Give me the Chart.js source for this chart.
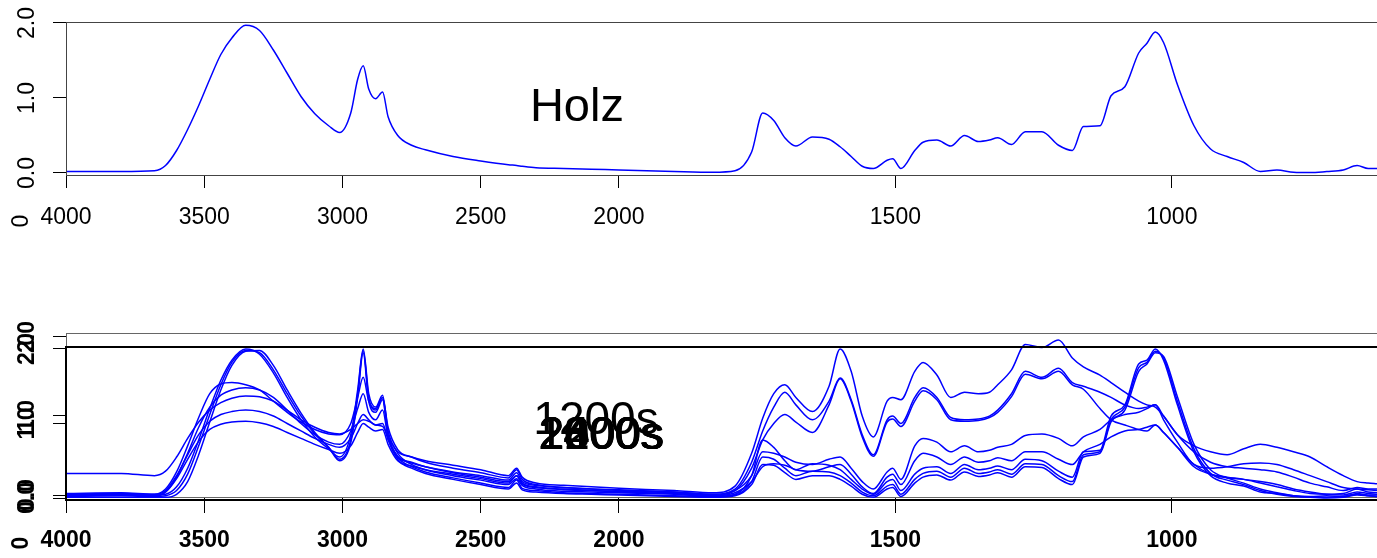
<!DOCTYPE html>
<html>
<head>
<meta charset="utf-8">
<script src="https://cdn.jsdelivr.net/npm/chart.js@4.4.1/dist/chart.umd.min.js"></script>
<style>
    html, body { margin: 0; padding: 0; background: #fff; }
    #wrap { position: relative; width: 1377px; height: 558px; overflow: hidden; }
    canvas { position: absolute; left: 0; top: 0; }
</style>
</head>
<body>
<div id="wrap">
    <canvas id="topChart" width="1377" height="558"></canvas>
    <canvas id="frameChart" width="1377" height="558"></canvas>
    <canvas id="bottomChart" width="1377" height="558"></canvas>
</div>
<script>
// FTIR spectra, wavenumber axis is stretched x2 below 2000 cm-1
const wavenumbers = [
    4000, 3800, 3680, 3640, 3600, 3560, 3520, 3480, 3440, 3400,
    3350, 3300, 3250, 3200, 3150, 3100, 3050, 3010, 2970, 2945,
    2925, 2905, 2880, 2855, 2835, 2800, 2750, 2700, 2600, 2500,
    2400, 2370, 2350, 2300, 2200, 2100, 2000, 1900, 1830, 1790,
    1760, 1740, 1720, 1700, 1680, 1650, 1620, 1600, 1580, 1560,
    1540, 1515, 1505, 1490, 1465, 1450, 1425, 1400, 1375, 1350,
    1330, 1315, 1290, 1265, 1235, 1205, 1180, 1160, 1130, 1110,
    1085, 1060, 1045, 1030, 1015, 990, 960, 930, 900, 870,
    840, 810, 780, 750, 720, 690, 665, 645, 629
];

const xTickLabels = [4000, 3500, 3000, 2500, 2000, 1500, 1000];
const yTickValues = [0, 1, 2];

const holz = [
    0.02, 0.02, 0.03, 0.10, 0.30, 0.58, 0.90, 1.25, 1.58, 1.80,
    1.97, 1.90, 1.64, 1.33, 1.02, 0.79, 0.63, 0.54, 0.80, 1.25,
    1.43, 1.12, 0.99, 1.08, 0.75, 0.50, 0.37, 0.31, 0.22, 0.16,
    0.11, 0.10, 0.09, 0.07, 0.06, 0.05, 0.04, 0.02, 0.01, 0.03,
    0.28, 0.80, 0.70, 0.47, 0.36, 0.48, 0.45, 0.35, 0.22, 0.09,
    0.06, 0.17, 0.19, 0.06, 0.30, 0.41, 0.44, 0.36, 0.50, 0.42,
    0.44, 0.47, 0.38, 0.55, 0.55, 0.37, 0.30, 0.62, 0.63, 1.03,
    1.15, 1.60, 1.73, 1.88, 1.74, 1.18, 0.63, 0.32, 0.22, 0.14,
    0.02, 0.04, 0.01, 0.005, 0.02, 0.04, 0.10, 0.06, 0.06
];

const sampleNames = ['1200s', '1400s', '1600s', '1800s', '2000s', '2200s', '2400s', '2600s'];

const s1200 = [
    0.04, 0.05, 0.04, 0.05, 0.15, 0.40, 0.78, 1.20, 1.58, 1.85,
    2.00, 1.93, 1.68, 1.35, 1.05, 0.82, 0.66, 0.55, 0.85, 1.45,
    2.00, 1.40, 1.22, 1.38, 0.90, 0.60, 0.45, 0.38, 0.30, 0.24,
    0.18, 0.26, 0.17, 0.12, 0.09, 0.08, 0.07, 0.05, 0.02, 0.05,
    0.30, 0.78, 0.68, 0.50, 0.38, 0.46, 0.44, 0.38, 0.25, 0.12,
    0.05, 0.22, 0.25, 0.10, 0.32, 0.40, 0.42, 0.33, 0.45, 0.38,
    0.40, 0.43, 0.38, 0.52, 0.50, 0.36, 0.28, 0.62, 0.64, 1.10,
    1.25, 1.80, 1.85, 2.00, 1.85, 1.25, 0.62, 0.30, 0.20, 0.16,
    0.08, 0.06, 0.03, 0.02, 0.03, 0.02, 0.06, 0.04, 0.04
];
const s1400 = [
    0.02, 0.03, 0.02, 0.03, 0.10, 0.32, 0.70, 1.12, 1.52, 1.82,
    1.98, 1.95, 1.72, 1.40, 1.10, 0.86, 0.68, 0.52, 0.78, 1.40,
    1.98, 1.35, 1.18, 1.35, 0.85, 0.55, 0.42, 0.35, 0.27, 0.20,
    0.14, 0.24, 0.13, 0.10, 0.07, 0.06, 0.05, 0.03, 0.02, 0.04,
    0.22, 0.55, 0.52, 0.40, 0.30, 0.36, 0.35, 0.30, 0.20, 0.08,
    0.03, 0.16, 0.18, 0.05, 0.25, 0.33, 0.36, 0.28, 0.40, 0.33,
    0.35, 0.38, 0.32, 0.46, 0.45, 0.30, 0.22, 0.58, 0.62, 1.05,
    1.22, 1.75, 1.82, 1.97, 1.88, 1.30, 0.66, 0.33, 0.24, 0.18,
    0.10, 0.05, 0.02, 0.01, 0.01, 0.02, 0.05, 0.03, 0.02
];
const s1600 = [
    0.01, 0.01, 0.01, 0.01, 0.05, 0.22, 0.58, 1.02, 1.45, 1.78,
    1.97, 1.98, 1.78, 1.45, 1.14, 0.88, 0.68, 0.50, 0.74, 1.35,
    1.95, 1.30, 1.15, 1.32, 0.82, 0.52, 0.40, 0.33, 0.25, 0.18,
    0.12, 0.20, 0.11, 0.08, 0.06, 0.05, 0.04, 0.02, 0.01, 0.03,
    0.18, 0.45, 0.44, 0.34, 0.25, 0.30, 0.30, 0.25, 0.16, 0.05,
    0.01, 0.12, 0.14, 0.02, 0.20, 0.28, 0.31, 0.24, 0.35, 0.29,
    0.31, 0.34, 0.28, 0.42, 0.41, 0.26, 0.18, 0.55, 0.60, 1.02,
    1.18, 1.70, 1.80, 1.95, 1.90, 1.36, 0.72, 0.38, 0.27, 0.20,
    0.12, 0.07, 0.03, 0.01, 0.00, 0.01, 0.04, 0.03, 0.02
];
const s1800 = [
    0.05, 0.06, 0.05, 0.12, 0.35, 0.70, 1.08, 1.40, 1.53, 1.55,
    1.52, 1.45, 1.30, 1.15, 1.02, 0.92, 0.86, 0.85, 1.00, 1.35,
    1.62, 1.30, 1.20, 1.35, 0.95, 0.65, 0.55, 0.48, 0.40, 0.34,
    0.27, 0.38, 0.25, 0.18, 0.14, 0.12, 0.10, 0.08, 0.05, 0.10,
    0.30, 0.62, 0.60, 0.55, 0.48, 0.45, 0.52, 0.55, 0.40, 0.22,
    0.12, 0.35, 0.40, 0.25, 0.70, 0.80, 0.75, 0.62, 0.70, 0.62,
    0.64, 0.68, 0.72, 0.84, 0.86, 0.80, 0.70, 0.82, 0.92, 1.05,
    1.12, 1.15, 1.20, 1.25, 1.10, 0.85, 0.62, 0.48, 0.42, 0.40,
    0.38, 0.35, 0.28, 0.20, 0.15, 0.10, 0.14, 0.12, 0.12
];
const s2000 = [
    0.03, 0.04, 0.03, 0.08, 0.28, 0.60, 0.95, 1.22, 1.38, 1.45,
    1.48, 1.45, 1.35, 1.18, 1.00, 0.85, 0.75, 0.72, 0.90, 1.20,
    1.40, 1.15, 1.05, 1.18, 0.82, 0.56, 0.48, 0.42, 0.34, 0.28,
    0.22, 0.30, 0.20, 0.15, 0.11, 0.10, 0.08, 0.06, 0.03, 0.07,
    0.22, 0.42, 0.46, 0.44, 0.38, 0.36, 0.42, 0.45, 0.32, 0.15,
    0.06, 0.28, 0.32, 0.18, 0.50, 0.60, 0.55, 0.45, 0.55, 0.48,
    0.50, 0.54, 0.50, 0.62, 0.62, 0.52, 0.45, 0.62, 0.72, 0.82,
    0.90, 0.92, 0.95, 0.98, 0.88, 0.68, 0.45, 0.32, 0.27, 0.25,
    0.22, 0.18, 0.12, 0.08, 0.05, 0.04, 0.08, 0.06, 0.05
];
const s2200 = [
    0.33, 0.33, 0.30, 0.36, 0.55, 0.80, 1.02, 1.18, 1.28, 1.34,
    1.37, 1.36, 1.30, 1.18, 1.05, 0.95, 0.88, 0.86, 0.92, 1.00,
    1.05, 1.03, 0.98, 0.96, 0.82, 0.62, 0.55, 0.50, 0.44, 0.38,
    0.30, 0.40, 0.28, 0.20, 0.17, 0.15, 0.13, 0.10, 0.07, 0.16,
    0.60, 1.07, 1.40, 1.52, 1.35, 1.16, 1.50, 2.00, 1.70, 1.10,
    0.82, 1.30, 1.35, 1.32, 1.70, 1.82, 1.65, 1.35, 1.42, 1.40,
    1.42, 1.52, 1.72, 2.06, 2.02, 2.12, 1.88, 1.76, 1.65, 1.55,
    1.42, 1.30, 1.25, 1.22, 1.10, 0.85, 0.70, 0.62, 0.58, 0.66,
    0.72, 0.68, 0.62, 0.55, 0.42, 0.30, 0.22, 0.20, 0.19
];
const s2400 = [
    0.06, 0.07, 0.05, 0.10, 0.30, 0.58, 0.85, 1.03, 1.12, 1.16,
    1.18, 1.16, 1.10, 1.00, 0.90, 0.80, 0.72, 0.68, 0.80, 1.00,
    1.12, 1.05, 0.98, 1.00, 0.78, 0.55, 0.47, 0.42, 0.35, 0.30,
    0.24, 0.34, 0.22, 0.17, 0.14, 0.12, 0.11, 0.08, 0.05, 0.12,
    0.48, 0.90, 1.22, 1.42, 1.25, 1.05, 1.30, 1.61, 1.32, 0.85,
    0.58, 1.05, 1.10, 1.00, 1.35, 1.48, 1.35, 1.08, 1.05, 1.06,
    1.10, 1.18, 1.40, 1.70, 1.62, 1.74, 1.55, 1.50, 1.42, 1.35,
    1.25, 1.20, 1.22, 1.25, 1.05, 0.75, 0.45, 0.40, 0.42, 0.46,
    0.47, 0.45, 0.38, 0.30, 0.22, 0.14, 0.12, 0.11, 0.10
];
const s2600 = [
    0.04, 0.05, 0.03, 0.08, 0.26, 0.52, 0.76, 0.92, 0.99, 1.02,
    1.03, 1.01, 0.96, 0.88, 0.80, 0.72, 0.65, 0.60, 0.70, 0.88,
    1.00, 0.95, 0.90, 0.92, 0.72, 0.50, 0.43, 0.38, 0.32, 0.26,
    0.20, 0.30, 0.19, 0.14, 0.12, 0.10, 0.09, 0.07, 0.04, 0.10,
    0.40, 0.78, 1.00, 1.12, 1.02, 0.88, 1.25, 1.60, 1.30, 0.82,
    0.56, 1.02, 1.06, 0.96, 1.30, 1.44, 1.32, 1.05, 1.03, 1.04,
    1.08, 1.15, 1.36, 1.66, 1.60, 1.70, 1.52, 1.46, 1.20, 1.05,
    0.98, 0.92, 0.90, 0.98, 0.88, 0.68, 0.42, 0.32, 0.28, 0.25,
    0.20, 0.15, 0.10, 0.06, 0.05, 0.06, 0.12, 0.08, 0.07
];
const samples = [s1200, s1400, s1600, s1800, s2000, s2200, s2400, s2600];

const FONT = '"Liberation Sans", Arial, Helvetica, sans-serif';
const X_MAX = 2371;
Chart.defaults.font.family = FONT;

// wavenumber <-> axis units (region below 2000 gets twice the room)
function toAxis(wn) {
    return wn >= 2000 ? (4000 - wn) / 2 : 1000 + (2000 - wn);
}
function fromAxis(u) {
    return u <= 1000 ? 4000 - 2 * u : 2000 - (u - 1000);
}
function toPoints(values) {
    return wavenumbers.map((w, i) => ({ x: toAxis(w), y: values[i] }));
}

// box, rotated y labels and text notes the way R draws them
const rStyle = {
    id: 'rStyle',
    afterDraw(chart, args, o) {
        const { ctx, chartArea: a, scales: { x, y } } = chart;
        ctx.save();
        ctx.strokeStyle = o.boxColor;
        ctx.lineWidth = o.boxWidth;
        const off = o.boxWidth % 2 ? 0.5 : 0;
        ctx.strokeRect(a.left + off, a.top + off, a.right - a.left + 20, a.bottom - a.top);

        ctx.fillStyle = '#000';
        ctx.textAlign = 'center';
        ctx.textBaseline = 'middle';
        ctx.font = (o.bold ? 'bold ' : '') + '23px ' + FONT;
        y.ticks.forEach(t => {
            ctx.save();
            ctx.translate(28, y.getPixelForValue(t.value));
            ctx.rotate(-Math.PI / 2);
            ctx.fillText(t.value.toFixed(1), 0, 0);
            ctx.restore();
        });

        (o.notes || []).forEach(n => {
            ctx.font = (n.bold ? 'bold ' : '') + n.size + 'px ' + FONT;
            ctx.save();
            if (n.wn !== undefined) {
                ctx.translate(x.getPixelForValue(toAxis(n.wn)), y.getPixelForValue(n.v));
            } else {
                ctx.translate(n.px, n.py);
            }
            if (n.rotate) ctx.rotate(-Math.PI / 2);
            ctx.fillText(n.text, 0, 0);
            ctx.restore();
        });
        ctx.restore();
    }
};

function makeOptions(o) {
    return {
        responsive: false,
        animation: false,
        devicePixelRatio: 1,
        layout: { padding: { top: o.top, left: 0, right: 0, bottom: 558 - o.bottom - o.xHeight } },
        plugins: {
            legend: { display: false },
            tooltip: { enabled: false },
            rStyle: { boxColor: o.boxColor, boxWidth: o.boxWidth, bold: o.bold, notes: o.notes }
        },
        scales: {
            x: {
                type: 'linear',
                min: 0,
                max: X_MAX,
                afterFit: s => { s.height = o.xHeight; },
                afterBuildTicks: s => { s.ticks = xTickLabels.map(w => ({ value: toAxis(w) })); },
                grid: { drawOnChartArea: false, drawTicks: true, tickLength: 13, tickColor: '#000', tickWidth: 1 },
                border: { display: true, color: o.boxColor, width: o.boxWidth },
                ticks: {
                    display: o.xLabels,
                    autoSkip: false,
                    maxRotation: 0,
                    minRotation: 0,
                    padding: o.xPad,
                    color: '#000',
                    font: { size: 23, weight: o.bold ? 'bold' : 'normal' },
                    callback: v => String(Math.round(fromAxis(v)))
                }
            },
            y: {
                type: 'linear',
                min: o.yMin,
                max: o.yMax,
                afterFit: s => { s.width = 66; },
                afterBuildTicks: s => { s.ticks = yTickValues.map(v => ({ value: v })); },
                grid: { drawOnChartArea: false, drawTicks: true, tickLength: 13, tickColor: '#000', tickWidth: 1 },
                border: { display: true, color: o.boxColor, width: o.boxWidth },
                ticks: { display: false }
            }
        }
    };
}

const lineStyle = {
    borderColor: '#0000ff',
    borderWidth: 1.5,
    pointRadius: 0,
    cubicInterpolationMode: 'monotone',
    fill: false
};

// top panel: wood reference
new Chart(document.getElementById('topChart'), {
    type: 'line',
    data: { datasets: [Object.assign({ data: toPoints(holz) }, lineStyle)] },
    options: makeOptions({
        top: 22, bottom: 175, xHeight: 60, xPad: 16, xLabels: true,
        yMin: -0.0267, yMax: 2.0133,
        boxColor: '#444', boxWidth: 1, bold: false,
        notes: [
            { text: 'Holz', wn: 2152, v: 0.86, size: 47 },
            { text: '0', px: 22, py: 221, size: 23, rotate: true }
        ]
    }),
    plugins: [rStyle]
});

// bottom panel, first frame (axes only)
new Chart(document.getElementById('frameChart'), {
    type: 'line',
    data: { datasets: [] },
    options: makeOptions({
        top: 333, bottom: 497, xHeight: 61, xPad: 14, xLabels: false,
        yMin: -0.0253, yMax: 2.0506,
        boxColor: '#666', boxWidth: 1, bold: true,
        notes: []
    }),
    plugins: [rStyle]
});

// bottom panel, overlaid samples
const sampleNotes = sampleNames.map((name, i) => i === 0
    ? { text: name, wn: 2083, v: 1.03, size: 46 }
    : { text: name, wn: 2069 - i, v: 0.83, size: 46 });
sampleNotes.push({ text: '0', px: 22, py: 543, size: 23, rotate: true, bold: true });

new Chart(document.getElementById('bottomChart'), {
    type: 'line',
    data: {
        datasets: samples.map((vals, i) => Object.assign({
            label: sampleNames[i],
            data: toPoints(vals),
            clip: { left: 0, top: 16, right: 0, bottom: 3 }
        }, lineStyle))
    },
    options: makeOptions({
        top: 347, bottom: 500, xHeight: 58, xPad: 14, xLabels: true,
        yMin: -0.0268, yMax: 2.0268,
        boxColor: '#000', boxWidth: 2, bold: true,
        notes: sampleNotes
    }),
    plugins: [rStyle]
});
</script>
</body>
</html>
